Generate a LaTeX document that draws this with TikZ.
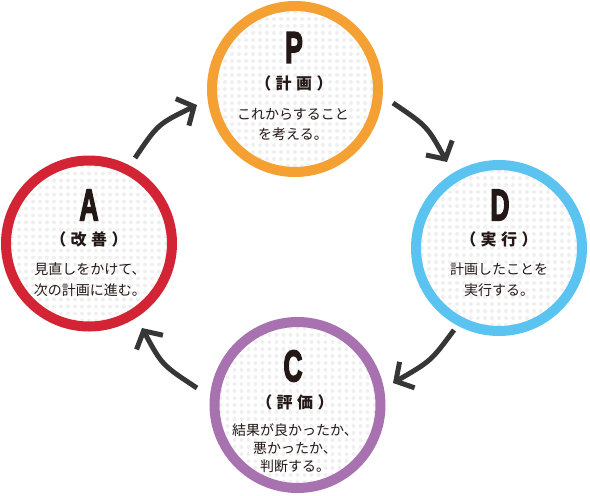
\documentclass[tikz,border=0pt]{standalone}
\usepackage{graphicx}
\usepackage{fontspec}
\setmainfont{Noto Sans CJK JP}
\newfontfamily\heavyfont[FakeBold=4]{Liberation Sans}
\usetikzlibrary{arrows.meta}
\definecolor{cP}{HTML}{F4A033}
\definecolor{cD}{HTML}{5BC3EF}
\definecolor{cC}{HTML}{A872B0}
\definecolor{cA}{HTML}{D22435}
\definecolor{dotc}{HTML}{EFEFEF}
\definecolor{arr}{HTML}{363636}
\definecolor{ink}{HTML}{231815}
\newcommand{\bigletter}[1]{\scalebox{0.6}[1]{\heavyfont\bfseries\fontsize{44}{44}\selectfont #1}}
\newcommand{\tr}{\hspace{4.5pt}}
\begin{document}
\begin{tikzpicture}[x=1pt,y=-1pt,
  ring/.style={circle, draw=#1, line width=10pt, minimum size=166pt, inner sep=0pt,
    path picture={
      \path (path picture bounding box.center) coordinate (pc);
      \foreach \i in {-12,...,12}{\foreach \j in {-12,...,12}{
        \fill[dotc] ([shift={(\i*7pt,\j*7pt)}]pc) circle (2pt);}}
    }},
  letter/.style={text=ink, inner sep=0pt},
  sub/.style={text=ink, inner sep=0pt, font=\bfseries\fontsize{16}{16}\selectfont},
  body/.style={text=ink, inner sep=0pt, align=center, font=\fontsize{14}{#1}\selectfont},
  body/.default=21,
  cyc/.style={draw=arr, line width=5pt, -{Straight Barb[length=13pt,width=30pt]}}
]
\useasboundingbox (0,0) rectangle (590,496);

% circles
\node[ring=cP] (P) at (295,89) {};
\node[ring=cD] (D) at (499,248) {};
\node[ring=cC] (C) at (297.5,405) {};
\node[ring=cA] (A) at (89,243.5) {};

% P
\node[letter] (Pl) at (294,47.5) {\bigletter{P}};
\node[sub] (Ps) at (294,83.5) {（\tr 計\tr 画\tr ）};
\node[body=20] (Pt) at (293,125) {これからすること\\を考える。};

% D
\node[letter] (Dl) at (500,205) {\bigletter{D}};
\node[sub] (Ds) at (499,239.5) {（\tr 実\tr 行\tr ）};
\node[body=21] (Dt) at (499,279.5) {計画したことを\\実行する。};

% C
\node[letter] (Cl) at (293,366) {\bigletter{C}};
\node[sub] (Cs) at (295,402) {（\tr 評\tr 価\tr ）};
\node[body=18] (Ct) at (295,448) {結果が良かったか、\\悪かったか、\\判断する。};

% A
\node[letter] (Al) at (89,205) {\bigletter{A}};
\node[sub] (As) at (89,239.5) {（\tr 改\tr 善\tr ）};
\node[body=21] (At) at (90,279.5) {見直しをかけて、\\次の計画に進む。};

% arrows
\coordinate (a1s) at (135,158); \coordinate (a1e) at (197,105);
\coordinate (a2s) at (393,103); \coordinate (a2e) at (447,162);
\coordinate (a3s) at (454,330); \coordinate (a3e) at (393,383);
\coordinate (a4s) at (197,388); \coordinate (a4e) at (142,328);
\draw[cyc] (a1s) .. controls (158,124) .. (a1e);
\draw[cyc] (a2s) .. controls (427,126) .. (a2e);
\draw[cyc] (a3s) .. controls (431,361) .. (a3e);
\draw[cyc] (a4s) .. controls (162,365) .. (a4e);
\end{tikzpicture}
\end{document}
